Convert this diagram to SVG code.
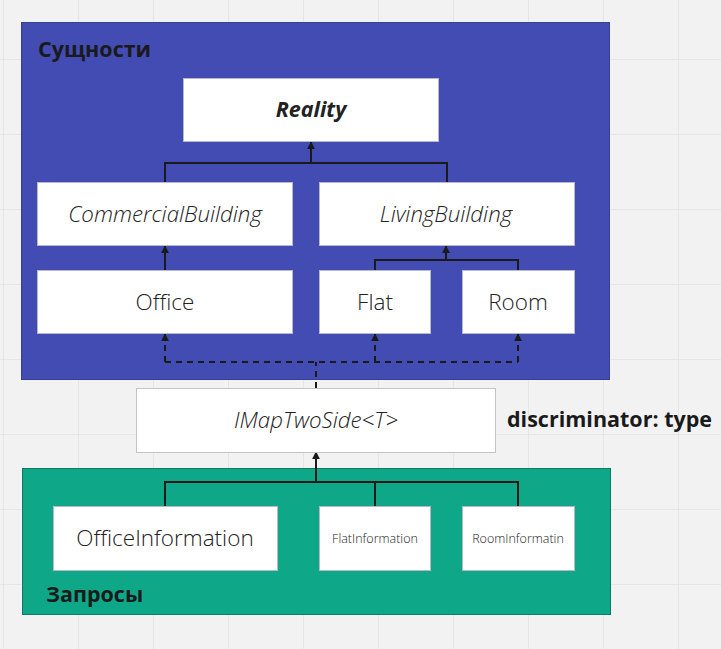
<svg xmlns="http://www.w3.org/2000/svg" width="721" height="649" viewBox="0 0 721 649">
<defs>
<pattern id="grid" x="3" y="59" width="75" height="75" patternUnits="userSpaceOnUse">
<path d="M0 0H75M0 0V75" fill="none" stroke="#e2e2e2" stroke-width="1.5"/>
</pattern>
<marker id="arr" viewBox="0 0 10 10" refX="9" refY="5" markerWidth="8" markerHeight="8" markerUnits="userSpaceOnUse" orient="auto">
<path d="M0 0L10 5L0 10z" fill="#1a1a1a"/>
</marker>
</defs>
<style>
.box{fill:#ffffff;stroke:#b8b8c8;stroke-width:1}
.t{font-family:"Open Sans","DejaVu Sans",sans-serif;fill:#222222;text-anchor:middle;font-weight:300}
.n{font-size:22.5px}
.i{font-size:22.3px;font-style:italic}
.s{font-size:12.5px}
.h{font-family:"Open Sans","DejaVu Sans",sans-serif;font-size:21.5px;font-weight:bold;fill:#1a1a1a}
.ln{fill:none;stroke:#1a1a1a;stroke-width:2}
.d{stroke-dasharray:6 5}
</style>
<rect width="721" height="649" fill="#f2f2f2"/>
<rect width="721" height="649" fill="url(#grid)"/>
<g id="entities">
<rect x="21.5" y="22.5" width="588" height="357" fill="#424cb2" stroke="#353d95"/>
<text class="h" x="38" y="57">Сущности</text>
</g>
<g id="requests">
<rect x="22.5" y="468.5" width="588" height="146" fill="#0ea888" stroke="#0b7c64"/>
<text class="h" x="46" y="602">Запросы</text>
</g>
<g id="connectors">
<path class="ln" d="M165 182V163H447V182"/>
<path class="ln" d="M311 163V142" marker-end="url(#arr)"/>
<path class="ln" d="M165 270V246" marker-end="url(#arr)"/>
<path class="ln" d="M375 270V260H518V270"/>
<path class="ln" d="M446 260V246" marker-end="url(#arr)"/>
<path class="ln d" d="M316 388V362"/>
<path class="ln d" d="M165 362H518"/>
<path class="ln d" d="M165 362V334" marker-end="url(#arr)"/>
<path class="ln d" d="M375 362V334" marker-end="url(#arr)"/>
<path class="ln d" d="M518 362V334" marker-end="url(#arr)"/>
<path class="ln" d="M165 506V482H518V506M375 482V506"/>
<path class="ln" d="M316 482V452" marker-end="url(#arr)"/>
</g>
<g id="reality">
<rect class="box" x="183.5" y="78.5" width="255" height="63"/>
<text class="t" x="311" y="117" font-size="21.5" style="font-weight:bold;font-style:italic">Reality</text>
</g>
<g id="commercial">
<rect class="box" x="37.5" y="182.5" width="255" height="63"/>
<text class="t i" x="165" y="221.5">CommercialBuilding</text>
</g>
<g id="living">
<rect class="box" x="319.5" y="182.5" width="255" height="63"/>
<text class="t i" x="446" y="221.5">LivingBuilding</text>
</g>
<g id="office">
<rect class="box" x="37.5" y="270.5" width="255" height="63"/>
<text class="t n" x="165" y="310">Office</text>
</g>
<g id="flat">
<rect class="box" x="319.5" y="270.5" width="111" height="63"/>
<text class="t n" x="375" y="310">Flat</text>
</g>
<g id="room">
<rect class="box" x="462.5" y="270.5" width="112" height="63"/>
<text class="t n" x="518" y="310">Room</text>
</g>
<g id="imap">
<rect x="136.5" y="388.5" width="359" height="64" fill="#ffffff" stroke="#c4c4c4"/>
<text class="t i" x="316" y="428">IMapTwoSide&lt;T&gt;</text>
<text class="h" x="507" y="427">discriminator: type</text>
</g>
<g id="officeinfo">
<rect class="box" x="53.5" y="506.5" width="224" height="64"/>
<text class="t n" x="165" y="546">OfficeInformation</text>
</g>
<g id="flatinfo">
<rect class="box" x="319.5" y="506.5" width="111" height="64"/>
<text class="t s" x="375" y="542.5">FlatInformation</text>
</g>
<g id="roominfo">
<rect class="box" x="462.5" y="506.5" width="112" height="64"/>
<text class="t s" x="518" y="542.5">RoomInformatin</text>
</g>
</svg>
